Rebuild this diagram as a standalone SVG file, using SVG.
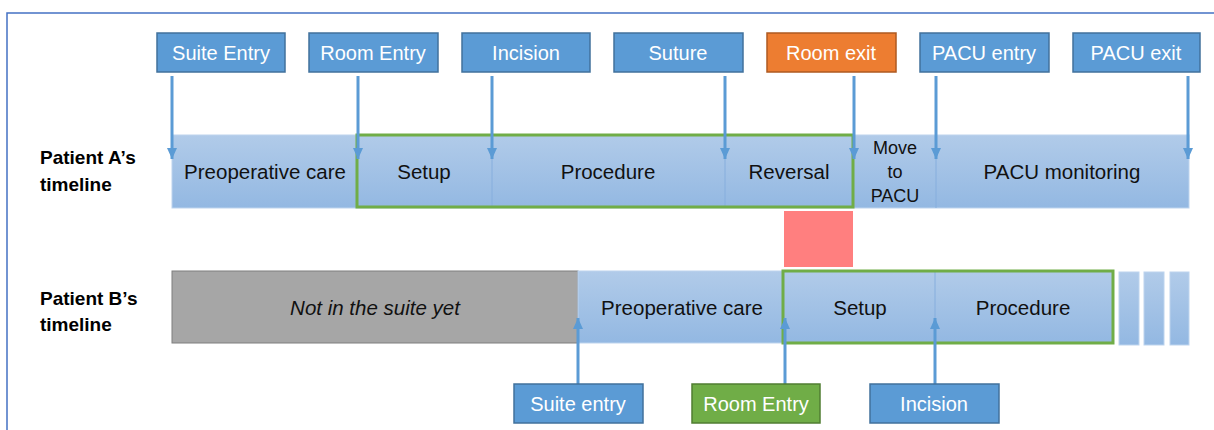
<svg xmlns="http://www.w3.org/2000/svg" width="1214" height="430" viewBox="0 0 1214 430">
<defs>
<linearGradient id="bar" x1="0" y1="0" x2="0" y2="1">
<stop offset="0" stop-color="#B1CBE9"/>
<stop offset="1" stop-color="#93B8E2"/>
</linearGradient>
<marker id="ahd" viewBox="0 0 10 11" refX="5" refY="11" markerWidth="10" markerHeight="11" markerUnits="userSpaceOnUse" orient="0">
<path d="M0,0 L10,0 L5,11 Z" fill="#5B9BD5"/>
</marker>
<marker id="ahu" viewBox="0 0 10 11" refX="5" refY="0" markerWidth="10" markerHeight="11" markerUnits="userSpaceOnUse" orient="0">
<path d="M5,0 L10,11 L0,11 Z" fill="#5B9BD5"/>
</marker>
</defs>
<style>
.lbl{fill:#5B9BD5;stroke:#41719C;stroke-width:1.5}
.org{fill:#ED7D31;stroke:#AE5A21;stroke-width:1.5}
.grn{fill:#70AD47;stroke:#507E32;stroke-width:1.5}
.lt{font-family:"Liberation Sans",Arial,sans-serif;font-size:20px;fill:#FFFFFF;text-anchor:middle}
.bt{font-family:"Liberation Sans",Arial,sans-serif;font-size:20.5px;fill:#111111;text-anchor:middle}
.sm{font-family:"Liberation Sans",Arial,sans-serif;font-size:18px;fill:#111111;text-anchor:middle}
.hd{font-family:"Liberation Sans",Arial,sans-serif;font-size:19px;font-weight:bold;fill:#000000}
.bar{fill:url(#bar);stroke:#BDD4EE;stroke-width:1}
.div{stroke:#86AEDD;stroke-width:1}
.gb{fill:none;stroke:#70AD47;stroke-width:3}
.arr{stroke:#5B9BD5;stroke-width:3;fill:none}
</style>
<rect x="0" y="0" width="1214" height="430" fill="#FFFFFF"/>
<rect x="7" y="13" width="1230" height="440" fill="none" stroke="#4472C4" stroke-width="1.5"/>

<g id="patient-a-label">
<text class="hd" x="40" y="164">Patient A’s</text>
<text class="hd" x="40" y="191">timeline</text>
</g>
<g id="patient-b-label">
<text class="hd" x="40" y="305">Patient B’s</text>
<text class="hd" x="40" y="331">timeline</text>
</g>

<g id="timeline-a">
<rect class="bar" x="172" y="135" width="1017" height="73"/>
<line class="div" x1="492" y1="135" x2="492" y2="208"/>
<line class="div" x1="725" y1="135" x2="725" y2="208"/>
<line class="div" x1="936" y1="135" x2="936" y2="208"/>
</g>
<g id="a-preop"><text class="bt" x="265" y="179">Preoperative care</text></g>
<g id="a-setup"><text class="bt" x="424" y="179">Setup</text></g>
<g id="a-procedure"><text class="bt" x="608" y="179">Procedure</text></g>
<g id="a-reversal"><text class="bt" x="789" y="179">Reversal</text></g>
<g id="a-move">
<text class="sm" x="895" y="154">Move</text>
<text class="sm" x="895" y="178">to</text>
<text class="sm" x="895" y="202">PACU</text>
</g>
<g id="a-pacu"><text class="bt" x="1062" y="179">PACU monitoring</text></g>
<g id="a-green"><rect class="gb" x="357" y="135" width="496" height="72"/></g>

<g id="overlap"><rect x="784" y="211" width="69" height="56" fill="#FF7F7F"/></g>

<g id="timeline-b">
<rect x="172" y="271" width="406" height="72" fill="#A6A6A6" stroke="#7F7F7F" stroke-width="1"/>
<rect class="bar" x="578" y="271" width="535" height="72"/>
<line class="div" x1="935" y1="271" x2="935" y2="343"/>
<rect class="bar" x="1119" y="272" width="20" height="73"/>
<rect class="bar" x="1144" y="272" width="20" height="73"/>
<rect class="bar" x="1170" y="272" width="19" height="73"/>
</g>
<g id="b-notin"><text class="bt" x="375" y="315" font-style="italic">Not in the suite yet</text></g>
<g id="b-preop"><text class="bt" x="682" y="315">Preoperative care</text></g>
<g id="b-setup"><text class="bt" x="860" y="315">Setup</text></g>
<g id="b-procedure"><text class="bt" x="1023" y="315">Procedure</text></g>
<g id="b-green"><rect class="gb" x="783" y="271" width="330" height="72"/></g>

<g id="connectors">
<line class="arr" x1="172" y1="76" x2="172" y2="159" marker-end="url(#ahd)"/>
<line class="arr" x1="358" y1="76" x2="358" y2="159" marker-end="url(#ahd)"/>
<line class="arr" x1="492" y1="76" x2="492" y2="159" marker-end="url(#ahd)"/>
<line class="arr" x1="725" y1="76" x2="725" y2="159" marker-end="url(#ahd)"/>
<line class="arr" x1="854" y1="76" x2="854" y2="159" marker-end="url(#ahd)"/>
<line class="arr" x1="936" y1="76" x2="936" y2="159" marker-end="url(#ahd)"/>
<line class="arr" x1="1188" y1="76" x2="1188" y2="159" marker-end="url(#ahd)"/>
<line class="arr" x1="578" y1="384" x2="578" y2="318" marker-end="url(#ahu)"/>
<line class="arr" x1="785" y1="384" x2="785" y2="318" marker-end="url(#ahu)"/>
<line class="arr" x1="935" y1="384" x2="935" y2="318" marker-end="url(#ahu)"/>
</g>

<g id="suite-entry"><rect class="lbl" x="157" y="33" width="128" height="39"/><text class="lt" x="221" y="60">Suite Entry</text></g>
<g id="room-entry"><rect class="lbl" x="309" y="33" width="129" height="39"/><text class="lt" x="373" y="60">Room Entry</text></g>
<g id="incision"><rect class="lbl" x="462" y="33" width="128" height="39"/><text class="lt" x="526" y="60">Incision</text></g>
<g id="suture"><rect class="lbl" x="614" y="33" width="129" height="39"/><text class="lt" x="678" y="60">Suture</text></g>
<g id="room-exit"><rect class="org" x="767" y="33" width="129" height="39"/><text class="lt" x="831" y="60">Room exit</text></g>
<g id="pacu-entry"><rect class="lbl" x="920" y="33" width="129" height="39"/><text class="lt" x="984" y="60">PACU entry</text></g>
<g id="pacu-exit"><rect class="lbl" x="1073" y="33" width="127" height="39"/><text class="lt" x="1136" y="60">PACU exit</text></g>

<g id="b-suite-entry"><rect class="lbl" x="514" y="384" width="129" height="39"/><text class="lt" x="578" y="411">Suite entry</text></g>
<g id="b-room-entry"><rect class="grn" x="692" y="384" width="128" height="39"/><text class="lt" x="756" y="411">Room Entry</text></g>
<g id="b-incision"><rect class="lbl" x="870" y="384" width="129" height="39"/><text class="lt" x="934" y="411">Incision</text></g>
</svg>
